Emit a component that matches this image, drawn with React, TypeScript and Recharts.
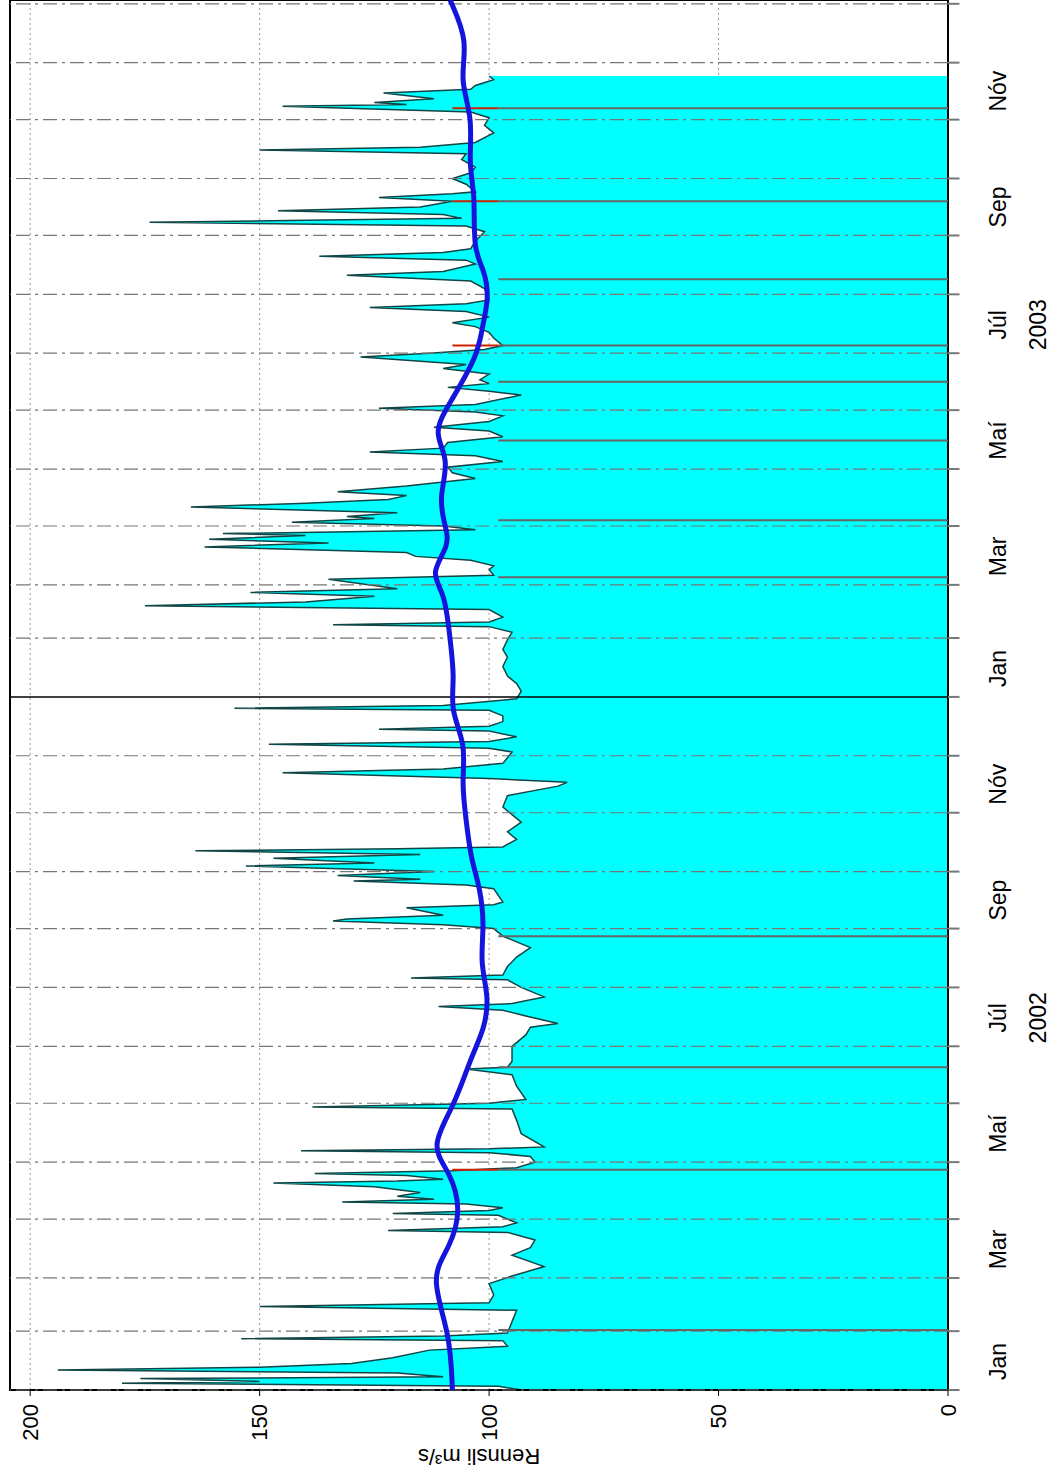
import { ComposedChart, Area, Line, XAxis, YAxis, CartesianGrid, ReferenceLine, ReferenceArea } from 'recharts';

// days counted from 1 Jan 2002
const flowDays = [0, 2, 3.5, 4.5, 6, 7, 9, 10.5, 12, 14, 17, 21, 23, 26, 27, 28.5, 30, 36, 42, 44, 46, 50, 56, 60, 65, 71, 75, 79, 83, 84, 86, 88, 92, 93, 94.5, 96, 98, 99, 100.5, 102, 104, 107, 109, 110, 111, 113, 114, 115.5, 117, 120, 123, 125, 126, 127, 128, 135, 142, 148, 149, 151, 153, 160, 166, 169, 170, 173, 181, 187, 191, 193, 197, 200, 202, 203.5, 207, 212, 216, 217, 218.5, 223, 228, 233, 239, 243, 245, 247, 248, 250, 254, 255.5, 257, 264, 266, 268, 269, 271, 273, 276, 277.5, 280, 282, 284, 285, 286, 290, 294, 299, 303, 307, 313, 318, 320, 322, 325, 327, 330, 336, 338, 340, 341.5, 344, 347, 348, 349.5, 352, 355, 358, 359, 360.5, 364, 368, 372, 376, 381, 386, 390, 395, 399, 402, 403, 404.5, 407, 411, 413, 415, 418, 420, 422, 427, 429, 432, 434, 437, 439, 441, 444, 446, 448, 450, 451, 453, 455, 457, 459, 460, 462, 465, 467, 469, 471, 473, 476, 480, 483, 486, 489, 492, 494, 496, 499, 502, 505, 507, 510, 513, 515, 517, 519, 524, 526, 528, 530, 532, 535, 538, 540, 544, 546, 548, 550, 554, 557, 560, 562, 565, 568, 570, 572, 574, 580, 584, 587, 589, 593, 595, 597, 599, 601, 605, 610, 613, 615, 616, 617, 619, 621, 623, 626, 628, 630, 631, 635, 638, 641, 644, 648, 651, 653, 654.5, 657, 662, 666, 670, 673, 676, 677, 678, 680, 683, 685, 687, 690, 692];
const flowValues = [93, 98, 180, 150, 176, 110, 120, 194, 150, 130, 121, 113, 96, 97, 154, 110, 96, 95, 94, 150, 100, 99, 100, 95, 88, 95, 91, 90, 96, 122, 97, 94, 98, 121, 100, 97, 105, 132, 112, 120, 115, 125, 147, 120, 110, 118, 138, 108, 94, 90, 91, 100, 141, 100, 88, 93, 94, 95, 138.5, 100, 92, 94, 95, 105, 96, 95, 95, 92, 91, 85, 92, 97, 111, 95, 88, 93, 96, 117, 97, 96, 94, 91, 97, 99, 110, 134, 131, 110, 118, 99, 97, 99, 105, 129.5, 115, 133, 112, 153, 125, 147, 115, 164, 120, 97, 94, 96, 93, 95, 97, 96, 85, 83, 100, 145, 110, 97, 95, 100, 148, 100, 94, 100, 124, 100, 97, 97, 100, 155.5, 110, 94, 93, 94, 96, 97, 96, 97, 96, 95, 100, 134, 100, 97, 100, 175, 140, 125, 152, 120, 135, 99, 100, 99, 104, 116, 118, 162, 135, 161, 140, 158, 103, 110, 143, 125, 131, 120, 165, 140, 122, 118, 133, 118, 103, 108, 109, 97, 103, 126, 110, 109, 97, 100, 112, 100, 97, 103, 124, 103, 93, 100, 109, 100, 102, 100, 110, 105, 128, 113, 101, 97, 99, 100, 103, 108, 100, 105, 126, 105, 100, 101, 104, 131, 110, 103, 105, 137, 110, 104, 103, 101, 105, 174, 140, 106, 110, 146, 115, 108, 124, 108, 103, 105, 108, 104, 103, 106, 105, 150, 115, 103, 99, 101, 100, 104, 145, 118, 125, 112, 123, 104, 103, 99, 100];

const trendDays = [0, 30, 60, 75, 95, 115, 128, 150, 175, 190, 207, 225, 245, 265, 280, 300, 320, 340, 358, 375, 395, 420, 430, 445, 455, 470, 490, 504, 520, 545, 560, 575, 590, 600, 630, 645, 670, 690, 710, 732];
const trendValues = [108, 108.5, 113, 108.5, 106, 108.5, 113, 107.5, 104, 101, 100, 102, 101, 102, 104, 105, 106, 105, 108.5, 107.5, 108.5, 109.6, 113, 108.5, 109.6, 111, 108.5, 112.4, 108.5, 102.4, 101.5, 100, 101, 103.5, 103, 104.5, 103.5, 106.5, 104.5, 108.5];

const monthStarts = [0, 31, 59, 90, 120, 151, 181, 212, 243, 273, 304, 334, 365, 396, 424, 455, 485, 516, 546, 577, 608, 638, 669, 699, 730];
const labelDays = [15, 74, 135, 196, 258, 319, 380, 439, 500, 561, 623, 684];
const labelNames = ['Jan', 'Mar', 'Maí', 'Júl', 'Sep', 'Nóv', 'Jan', 'Mar', 'Maí', 'Júl', 'Sep', 'Nóv'];
const yearLabels: Record<number, string> = { 196: '2002', 561: '2003' };

const markDays = [31.6, 116, 170, 239, 428, 458, 500, 531, 550, 585, 626, 675];
const markRed = [false, true, false, false, false, false, false, false, true, false, true, true];
const markTop = 98;

const data = flowDays.map((d, i) => ({ day: d, flow: flowValues[i] }));
const trend = trendDays.map((d, i) => ({ day: d, trend: trendValues[i] }));

const font = 'Liberation Sans, Arial, sans-serif';

const MonthTick = (props: any) => {
  const { x, y, payload } = props;
  const i = labelDays.indexOf(payload.value);
  return (
    <g>
      <text x={x} y={y + 50} textAnchor="middle" fontSize={23} fontFamily={font} fill="#000">{labelNames[i]}</text>
      {yearLabels[payload.value] && (
        <text x={x} y={y + 90} textAnchor="middle" fontSize={23} fontFamily={font} fill="#000">{yearLabels[payload.value]}</text>
      )}
    </g>
  );
};

const AxisTitle = () => (
  <text x={28} y={479} transform="rotate(-90 28 479)" textAnchor="middle" fontSize={22} fontFamily={font} fill="#000">Rennsli  m³/s</text>
);

export default function App() {
  return (
    <div style={{ position: 'absolute', left: 0, top: 0, width: 1057, height: 1477, overflow: 'hidden', background: '#fff' }}>
      <div style={{ position: 'absolute', left: 0, top: 0, width: 1477, height: 1057, transformOrigin: '0 0', transform: 'translate(0px, 1477px) rotate(-90deg)' }}>
        <ComposedChart width={1477} height={1057} margin={{ top: 10, right: 0, bottom: 79, left: 0 }}>
          <CartesianGrid vertical={false} stroke="#999" strokeDasharray="2 3" />
          <XAxis type="number" dataKey="day" domain={[0, 732]} ticks={labelDays} tick={<MonthTick />} tickLine={false} axisLine={false} allowDuplicatedCategory={false} />
          <YAxis type="number" domain={[0, 204.4]} ticks={[0, 50, 100, 150, 200]} width={87} tickSize={6} tickMargin={8} axisLine={false} stroke="#000"
            tick={{ fontSize: 22, fontFamily: font, fill: '#000' }} label={<AxisTitle />} />
          {monthStarts.map((d) => (
            <ReferenceLine key={'m' + d} x={d} stroke={d === 365 ? '#000' : '#777'} strokeWidth={d === 365 ? 1.5 : 1.2} strokeDasharray={d === 365 ? undefined : '14 5 3 5'} />
          ))}
          <Area data={data} dataKey="flow" type="linear" stroke="#114444" strokeWidth={1.5} fill="#00ffff" fillOpacity={1} isAnimationActive={false} />
          {markDays.map((d) => (
            <ReferenceLine key={'k' + d} segment={[{ x: d, y: 0 }, { x: d, y: markTop }]} stroke="#666" strokeWidth={2} />
          ))}
          {markDays.map((d, i) => markRed[i] ? (
            <ReferenceLine key={'r' + d} segment={[{ x: d, y: markTop }, { x: d, y: 108 }]} stroke="#cc2200" strokeWidth={2} />
          ) : null)}
          <Line data={trend} dataKey="trend" type="basis" stroke="#1414dc" strokeWidth={5} dot={false} isAnimationActive={false} />
          {monthStarts.map((d) => (
            <ReferenceLine key={'t' + d} segment={[{ x: d, y: 0 }, { x: d, y: -2.5 }]} stroke="#777" strokeWidth={2} ifOverflow="visible" />
          ))}
          <ReferenceArea x1={0} x2={732} y1={0} y2={204.4} fill="none" stroke="#000" strokeWidth={2} ifOverflow="visible" />
        </ComposedChart>
      </div>
    </div>
  );
}
